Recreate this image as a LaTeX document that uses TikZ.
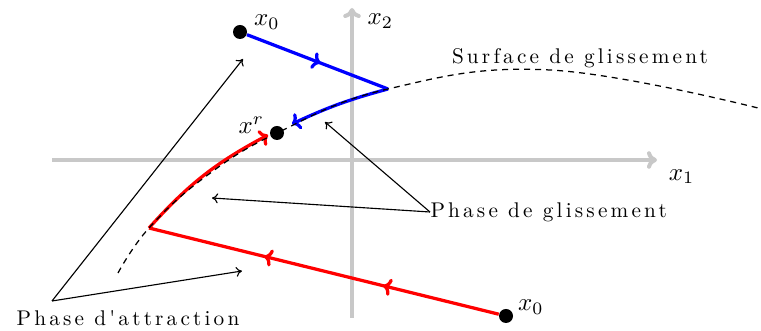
\documentclass[tikz,border=0pt]{standalone}
\usepackage{amsmath,amssymb}
\usepackage{fontspec}
\usepackage{tikz}
\usetikzlibrary{arrows.meta,positioning,decorations.markings}
\usepackage{xcolor}
\definecolor{axisgray}{HTML}{C8C8C8}
\newfontfamily\phasefam{lmroman10-regular.otf}[LetterSpace=15]
\newcommand{\phasefont}{\fontsize{8.5}{10}\phasefam}

\begin{document}
\begin{tikzpicture}[
  x=0.4pt, y=-0.4pt,
  axis/.style={draw=axisgray, line width=1.6pt, -{To[length=4pt, width=7pt]}},
  dot/.style={circle, fill=black, inner sep=0pt, minimum size=5.6pt},
  traj/.style={line width=1.3pt},
  tip/.style={-{To[length=3.2pt, width=7pt]}},
  midarr/.style={postaction={decorate, decoration={markings, mark=at position #1 with {\arrow{To[length=3.2pt, width=7pt]}}}}},
  surf/.style={dash pattern=on 2.4pt off 2pt, line width=0.5pt},
  note/.style={-{To[length=2.4pt, width=4pt]}, line width=0.45pt},
  lbl/.style={inner sep=0pt, font=\phasefont},
  mlbl/.style={inner sep=0pt},
]
  \useasboundingbox (0,0) rectangle (761,331);

  % Axes
  \coordinate (x1l) at (52,160);
  \coordinate (x1r) at (657,160);
  \coordinate (x2b) at (352,318);
  \coordinate (x2t) at (352,8);
  \draw[axis] (x1l) -- (x1r);
  \draw[axis] (x2b) -- (x2t);
  \node[mlbl, below right=3.5pt and 4.5pt of x1r] (lx1) {$x_1$};
  \node[mlbl, below right=2pt and 6pt of x2t] (lx2) {$x_2$};

  % States
  \node[dot] (x0a) at (240,32) {};
  \node[dot] (xr) at (277,133) {};
  \node[dot] (x0b) at (506,316) {};
  \node[mlbl, right=2.4pt of x0a, yshift=4pt] (lx0a) {$x_0$};
  \node[mlbl, left=2pt of xr, yshift=3.2pt] (lxr) {$x^r$};
  \node[mlbl, right=1.6pt of x0b, yshift=3.6pt] (lx0b) {$x_0$};

  % Sliding surface
  \coordinate (s1) at (118,273);
  \coordinate (vbot) at (149,228);
  \coordinate (vtop) at (388,89);
  \coordinate (s7) at (758,108);
  \coordinate (rt) at (268,135);
  \coordinate (bt) at (292,124);

  % Trajectories
  \draw[traj, blue, midarr=0.52] (x0a) -- (vtop);
  \draw[traj, blue, tip] (vtop) to[bend right=5] (bt);
  \draw[traj, red, midarr=0.33, midarr=0.67] (x0b) -- (vbot);
  \draw[traj, red, tip] (vbot) to[bend left=10] (rt);

  \draw[surf] plot[smooth, tension=0.7] coordinates {(s1) (vbot) (205,177) (xr) (vtop) (550,70) (s7)};
  \node[lbl] (surflbl) at (580,58) {Surface de glissement};

  % Phases
  \node[lbl, anchor=west] (glis) at (430,212) {Phase de glissement};
  \coordinate (gA) at (325,122);
  \coordinate (gB) at (212,198);
  \draw[note] (glis.west) -- (gA);
  \draw[note] (glis.west) -- (gB);

  \node[lbl] (attr) at (128,318) {Phase d'attraction};
  \coordinate (attrpt) at (52,301);
  \coordinate (aA) at (243,59);
  \coordinate (aB) at (242,271);
  \draw[note] (attrpt) -- (aA);
  \draw[note] (attrpt) -- (aB);
\end{tikzpicture}
\end{document}
